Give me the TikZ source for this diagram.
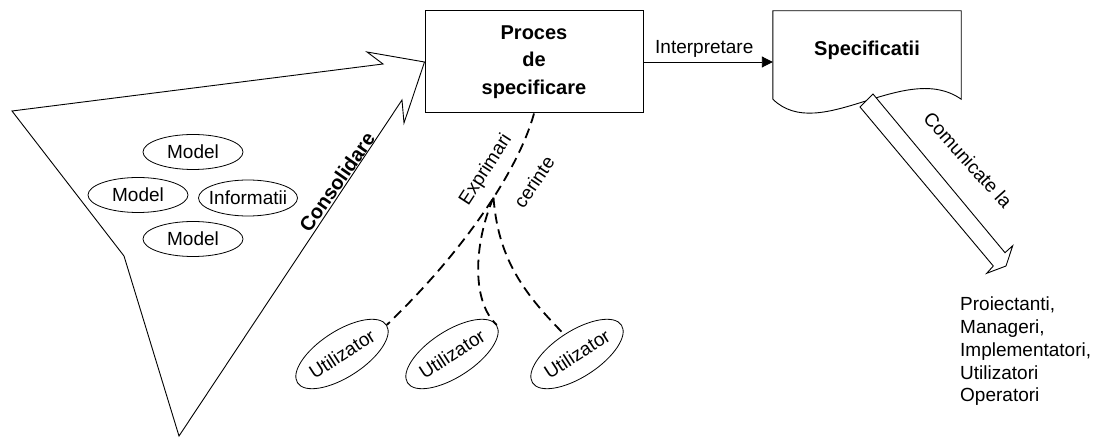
\documentclass[tikz,border=0pt]{standalone}
\usepackage{fontspec}
\setmainfont{Liberation Sans}
\usetikzlibrary{arrows.meta,shapes.geometric,calc}
\begin{document}
\begin{tikzpicture}[x=1pt,y=-1pt,
  txt/.style={font=\fontsize{19}{23}\selectfont},
  boldtxt/.style={font=\fontsize{20}{27.5}\selectfont\bfseries},
  outline/.style={draw, line width=0.9pt},
  oval/.style={draw, ellipse, line width=0.8pt, inner xsep=-6pt, inner ysep=0pt, txt},
  model/.style={oval, minimum width=100pt, minimum height=35pt},
  user/.style={oval, minimum width=106pt, minimum height=46pt, rotate=33},
  link/.style={draw, line width=1.8pt, dash pattern=on 10pt off 6pt}
]
\useasboundingbox (0,0) rectangle (1098,438);

% central process box
\node[draw, line width=1pt, minimum width=218pt, minimum height=102pt,
      align=center, boldtxt] (proc) at (534,62) {Proces\\de\\specificare};

% consolidation funnel: a wide arrow pointing at the process box
\coordinate (fTopLeft) at (12,111);
\coordinate (fTopNotch) at (383,64);
\coordinate (fTopBarb) at (367,52);
\coordinate (fLowBarb) at (404,123);
\coordinate (fLowNotch) at (402,100);
\coordinate (fBottom) at (179,436);
\coordinate (fKnee) at (124,256);
\draw[outline] (fTopLeft) -- (fTopNotch) -- (fTopBarb) -- (proc.west)
  -- (fLowBarb) -- (fLowNotch) -- (fBottom) -- (fKnee) -- cycle;
\node[boldtxt, rotate=55] (cons) at (337,182) {Consolidare};

% gathered models
\node[model] (m1) at (193,152) {Model};
\node[model] (m2) at (138,195) {Model};
\node[model, minimum width=99pt, minimum height=36pt] (info) at (248,198) {Informatii};
\node[model] (m3) at (193,239) {Model};

% users
\node[user] (u1) at (342,354) {Utilizator};
\node[user] (u2) at (452,354) {Utilizator};
\node[user] (u3) at (577,354) {Utilizator};

% requirement statements flowing up to the process
\draw[link] (proc.south) .. controls (520,165) and (470,245) ..
  coordinate[pos=0.45] (split) (u1.east);
\draw[link] (split) .. controls (475,240) and (470,300) .. (u2.east);
\draw[link] (split) .. controls (498,255) and (520,290) .. (u3.north);
\node[txt, rotate=57] (expr) at (486,170) {Exprimari};
\node[txt, rotate=56] (cer) at (534,182) {cerinte};

% specification document
\node[boldtxt, minimum width=188pt, minimum height=88pt, inner sep=0pt,
      text height=14.6pt, text depth=12.6pt] (spec) at (867,55) {Specificatii};
\draw[outline] (spec.south west) -- (spec.north west) -- (spec.north east)
  -- (spec.south east) .. controls (905,60) and (820,145) .. (spec.south west);

\draw[line width=0.9pt, -{Triangle[length=11pt,width=11pt]}]
  (proc.east) -- (proc.east -| spec.west)
  node[txt, pos=0.47, above=1pt] (interp) {Interpretare};

% hollow arrow towards the audience
\coordinate (cL) at (860,107);
\coordinate (cR) at (873,94);
\coordinate (cRend) at (1005,252.7);
\coordinate (cRbarb) at (1012.7,245.7);
\coordinate (cTip) at (1006,266);
\coordinate (cLbarb) at (986.7,273.3);
\coordinate (cLend) at (993.3,266);
\draw[outline, fill=white] (cL) -- (cR) -- (cRend) -- (cRbarb) -- (cTip)
  -- (cLbarb) -- (cLend) -- cycle;
\node[txt, rotate=-48] (com) at (968,160) {Comunicate la};

\node[align=left, anchor=north west, inner sep=0pt,
      font=\fontsize{19}{22.7}\selectfont] (dest) at (960,297)
  {Proiectanti,\\Manageri,\\Implementatori,\\Utilizatori\\Operatori};
\end{tikzpicture}
\end{document}
